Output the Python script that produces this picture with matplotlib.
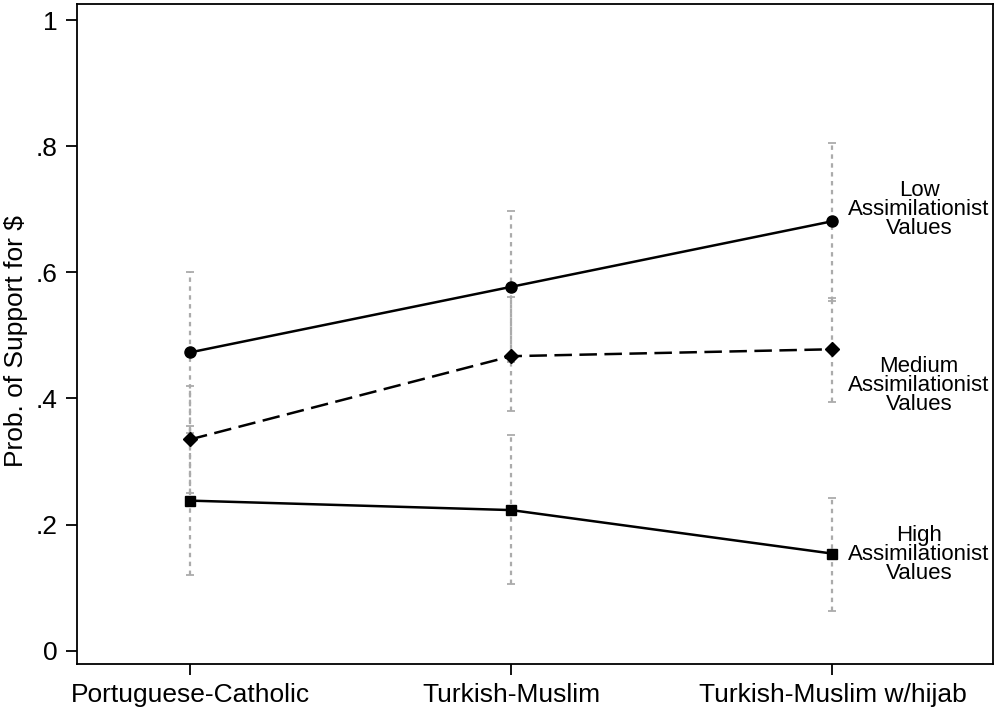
import matplotlib
matplotlib.use("Agg")
import matplotlib.pyplot as plt
import numpy as np

plt.rcParams["font.family"] = ["Liberation Sans", "DejaVu Sans"]

groups = ["Portuguese-Catholic", "Turkish-Muslim", "Turkish-Muslim w/hijab"]
x = np.arange(len(groups))

# predicted probabilities with 95% bounds
low = [0.473, 0.577, 0.681]
low_lo = [0.345, 0.457, 0.555]
low_hi = [0.601, 0.697, 0.805]

med = [0.335, 0.467, 0.478]
med_lo = [0.250, 0.380, 0.395]
med_hi = [0.420, 0.561, 0.560]

high = [0.238, 0.223, 0.154]
high_lo = [0.120, 0.106, 0.063]
high_hi = [0.356, 0.342, 0.242]

labels = ["Low\nAssimilationist\nValues", "Medium\nAssimilationist\nValues",
          "High\nAssimilationist\nValues"]
label_y = [0.70, 0.42, 0.152]

fig = plt.figure(figsize=(9.95, 7.09), dpi=100)
ax = fig.add_axes([0.0774, 0.0635, 0.9206, 0.9305])

series = [
    (low, low_lo, low_hi, "o", "-", 8),
    (med, med_lo, med_hi, "D", (0, (7, 3)), 7.5),
    (high, high_lo, high_hi, "s", "-", 7.5),
]

for vals, lo, hi, mk, ls, ms in series:
    vals = np.array(vals)
    yerr = [vals - np.array(lo), np.array(hi) - vals]
    eb = ax.errorbar(x, vals, yerr=yerr, fmt="none", ecolor="#ababab",
                     elinewidth=1.6, capsize=3, capthick=1.3, zorder=1)
    for c in eb[2]:
        c.set_linestyle((0, (2, 2)))
    ax.plot(x, vals, color="black", linestyle=ls, linewidth=1.8,
            marker=mk, markersize=ms, zorder=3)

for txt, yy in zip(labels, label_y):
    ax.text(2.27, yy, txt, ha="center", va="center", fontsize=16,
            linespacing=0.88)

ax.set_xlim(-0.352, 2.5)
ax.set_ylim(-0.021, 1.025)
ax.set_xticks(x)
ax.set_xticklabels(groups, fontsize=19)
ax.set_yticks([0, 0.2, 0.4, 0.6, 0.8, 1.0])
ax.set_yticklabels(["0", ".2", ".4", ".6", ".8", "1"], fontsize=19)
ax.set_ylabel("Prob. of Support for $", fontsize=19)
ax.yaxis.set_label_coords(-0.053, 0.49)
ax.tick_params(direction="out", length=8, width=1.3, pad=6)
for s in ax.spines.values():
    s.set_linewidth(1.3)

fig.savefig("out.png", dpi=100)
